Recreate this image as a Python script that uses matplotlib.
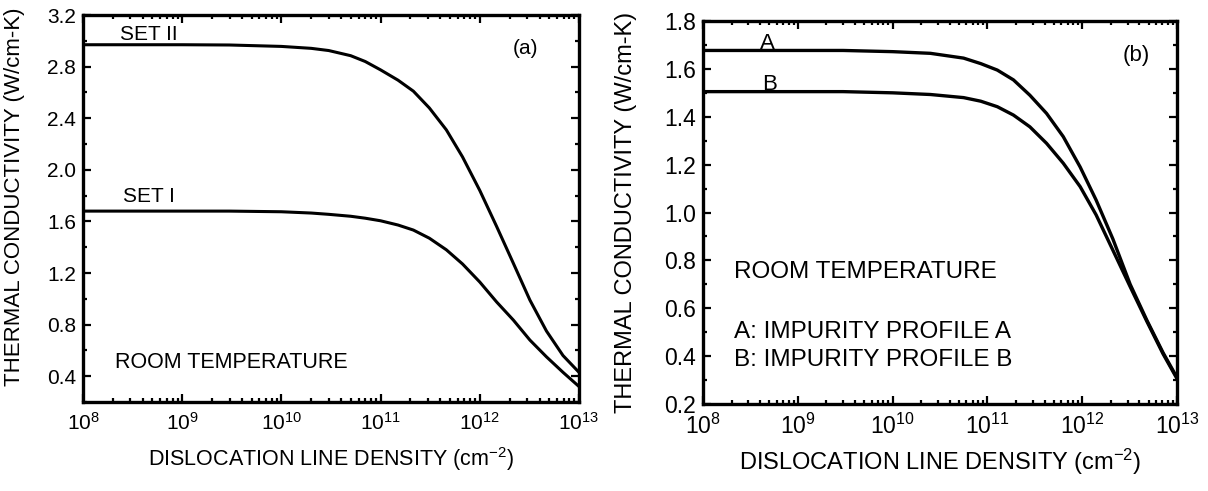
import matplotlib
matplotlib.use("Agg")
import matplotlib.pyplot as plt
from matplotlib.ticker import LogLocator, MultipleLocator, FormatStrFormatter, NullFormatter

plt.rcParams['font.family'] = ['Liberation Sans', 'DejaVu Sans']
plt.rcParams['mathtext.fontset'] = 'custom'
plt.rcParams['mathtext.rm'] = 'Liberation Sans'
plt.rcParams['mathtext.it'] = 'Liberation Sans:italic'

# dislocation line density (cm^-2)
density_a = [1e8, 1e9, 3e9, 1e10, 2e10, 3e10, 5e10, 7e10, 1e11, 1.5e11, 2.14e11, 3.1e11,
             4.6e11, 6.7e11, 1e12, 1.48e12, 2.18e12, 3.2e12, 4.7e12, 6.9e12, 1e13]
set_ii = [2.97, 2.97, 2.968, 2.957, 2.942, 2.925, 2.885, 2.84, 2.775, 2.695, 2.61, 2.48,
          2.31, 2.10, 1.84, 1.56, 1.275, 0.99, 0.75, 0.56, 0.43]
set_i = [1.68, 1.68, 1.68, 1.675, 1.665, 1.655, 1.64, 1.625, 1.605, 1.572, 1.533, 1.47,
         1.38, 1.27, 1.13, 0.975, 0.835, 0.68, 0.55, 0.43, 0.32]

density_b = [1e8, 1e9, 3e9, 1e10, 2.5e10, 5.6e10, 8.5e10, 1.27e11, 1.88e11, 2.8e11, 4.2e11,
             6.3e11, 9.5e11, 1.4e12, 2.1e12, 3.2e12, 4.8e12, 7.1e12, 1e13]
profile_a = [1.677, 1.677, 1.677, 1.672, 1.665, 1.645, 1.622, 1.595, 1.554, 1.49, 1.414,
             1.317, 1.19, 1.052, 0.89, 0.70, 0.55, 0.415, 0.31]
profile_b = [1.505, 1.505, 1.505, 1.50, 1.493, 1.48, 1.465, 1.442, 1.407, 1.358, 1.289,
             1.206, 1.108, 0.99, 0.843, 0.69, 0.545, 0.41, 0.305]

xlabel = r'DISLOCATION LINE DENSITY (cm$^{-2}$)'
ylabel = 'THERMAL CONDUCTIVITY (W/cm-K)'

fig = plt.figure(figsize=(12.08, 4.91), dpi=100)
ax1 = fig.add_axes([0.0687, 0.1813, 0.4106, 0.788])
ax2 = fig.add_axes([0.582, 0.1772, 0.3924, 0.780])


def style_axes(ax, fs):
    ax.set_xscale('log')
    ax.set_xlim(1e8, 1e13)
    ax.xaxis.set_major_locator(LogLocator(base=10, numticks=10))
    ax.xaxis.set_minor_locator(LogLocator(base=10, subs=range(2, 10), numticks=20))
    ax.xaxis.set_minor_formatter(NullFormatter())
    ax.tick_params(which='both', direction='in', top=True, right=True, width=1.6,
                   labelsize=fs, colors='black')
    ax.tick_params(which='major', length=6)
    ax.tick_params(which='minor', length=3)
    ax.tick_params(axis='x', pad=7)
    ax.tick_params(axis='y', pad=5)
    for sp in ax.spines.values():
        sp.set_linewidth(2.4)


# (a)
ax1.plot(density_a, set_ii, color='black', lw=2.2)
ax1.plot(density_a, set_i, color='black', lw=2.2)
style_axes(ax1, 15)
ax1.set_ylim(0.2, 3.2)
ax1.yaxis.set_minor_locator(MultipleLocator(0.2))
ax1.set_yticks([0.4, 0.8, 1.2, 1.6, 2.0, 2.4, 2.8, 3.2])
ax1.yaxis.set_major_formatter(FormatStrFormatter('%.1f'))
ax1.set_xlabel(xlabel, fontsize=15.5, labelpad=8)
ax1.set_ylabel(ylabel, fontsize=16)
ax1.yaxis.set_label_coords(-0.117, 0.53)
ax1.text(4.6e8, 3.05, 'SET II', fontsize=15, ha='center', va='center')
ax1.text(4.6e8, 1.79, 'SET I', fontsize=15, ha='center', va='center')
ax1.text(2.9e12, 2.94, '(a)', fontsize=15, ha='center', va='center')
ax1.text(2.1e8, 0.51, 'ROOM TEMPERATURE', fontsize=15.5, ha='left', va='center')

# (b)
ax2.plot(density_b, profile_a, color='black', lw=2.4)
ax2.plot(density_b, profile_b, color='black', lw=2.4)
style_axes(ax2, 16.5)
ax2.set_ylim(0.2, 1.8)
ax2.yaxis.set_major_locator(MultipleLocator(0.2))
ax2.yaxis.set_minor_locator(MultipleLocator(0.1))
ax2.yaxis.set_major_formatter(FormatStrFormatter('%.1f'))
ax2.set_xlabel(xlabel, fontsize=17, labelpad=6)
ax2.set_ylabel(ylabel, fontsize=17)
ax2.yaxis.set_label_coords(-0.139, 0.5)
ax2.text(4.8e8, 1.708, 'A', fontsize=16, ha='center', va='center')
ax2.text(5.0e8, 1.534, 'B', fontsize=16, ha='center', va='center', zorder=1)
ax2.text(3.7e12, 1.658, '(b)', fontsize=16, ha='center', va='center')
ax2.text(2.1e8, 0.752, 'ROOM TEMPERATURE', fontsize=17.5, ha='left', va='center')
ax2.text(2.1e8, 0.50, 'A: IMPURITY PROFILE A', fontsize=17.5, ha='left', va='center')
ax2.text(2.1e8, 0.385, 'B: IMPURITY PROFILE B', fontsize=17.5, ha='left', va='center')

fig.savefig('out.png', dpi=100)
